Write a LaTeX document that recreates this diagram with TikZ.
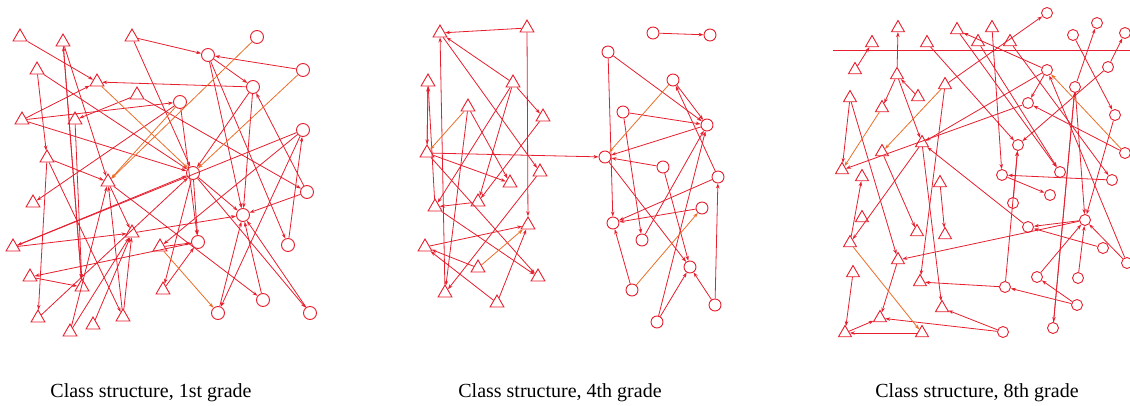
\documentclass[tikz,border=0pt]{standalone}
\usepackage{fontspec}
\setmainfont{Liberation Serif}
\usepackage{xcolor}
\usepackage{tikz}
\usetikzlibrary{shapes.geometric,arrows.meta}

\definecolor{pen}{RGB}{230,30,45}
\definecolor{penwarm}{RGB}{235,110,40}

\begin{document}
\begin{tikzpicture}[x=1pt, y=-1pt,
  tri/.style={draw=pen, regular polygon, regular polygon sides=3, minimum size=16pt, inner sep=0pt, line width=0.9pt, fill=white},
  ring/.style={draw=pen, circle, minimum size=13pt, inner sep=0pt, line width=0.9pt, fill=white},
  caption/.style={font=\fontsize{20}{24}\selectfont, text=black},
  arrow/.style={-{Stealth[length=5pt,width=3.5pt]}, draw=pen, line width=0.8pt},
  warm/.style={arrow, draw=penwarm}
]
  \useasboundingbox (0,0) rectangle (1130,406);

  % 1st grade
  \foreach \n/\x/\y in {1/20/37, 2/63/42, 3/132/37, 4/37/70, 5/97/82, 6/137/95, 7/22/120,
      8/75/120, 9/47/158, 10/108/182, 11/33/203, 12/132/233, 13/13/247, 14/160/247,
      15/30/277, 16/82/287, 17/163/290, 18/38/318, 19/70/332, 20/93/325, 21/123/317}
    \node[tri] (at\n) at (\x,\y) {};
  \foreach \n/\x/\y in {1/257/37, 2/208/55, 3/303/70, 4/253/87, 5/180/102, 6/303/130,
      7/193/173, 8/307/192, 9/243/215, 10/198/242, 11/288/245, 12/263/300, 13/218/313, 14/310/313}
    \node[ring] (ac\n) at (\x,\y) {};

  % 4th grade
  \foreach \n/\x/\y in {1/440/33, 2/527/28, 3/428/82, 4/513/83, 5/468/107, 6/543/117,
      7/427/153, 8/540/172, 9/510/183, 10/478/202, 11/435/207, 12/528/225, 13/425/247,
      14/478/268, 15/538/277, 16/445/293, 17/497/303}
    \node[tri] (bt\n) at (\x,\y) {};
  \foreach \n/\x/\y in {1/653/33, 2/710/35, 3/608/52, 4/673/80, 5/623/112, 6/707/125,
      7/605/157, 8/663/167, 9/718/177, 10/702/208, 11/613/223, 12/642/240, 13/690/267,
      14/632/290, 15/715/305, 16/657/322}
    \node[ring, minimum size=12pt] (bc\n) at (\x,\y) {};

  % 8th grade
  \coordinate (cutL) at (833,50);
  \coordinate (cutR) at (1130,50);
  \draw[pen, line width=0.9pt] (cutL) -- (cutR);
  \foreach \n/\x/\y in {1/898/28, 2/957/30, 3/992/28, 4/872/43, 5/927/43, 6/978/42,
      7/1010/42, 8/855/70, 9/897/75, 10/945/85, 11/918/97, 12/850/98, 13/882/108,
      14/922/143, 15/882/152, 16/842/170, 17/862/177, 18/940/183, 19/862/218,
      20/917/232, 21/945/235, 22/850/243, 23/898/260, 24/853/273, 25/920/282,
      26/942/308, 27/880/318, 28/845/333, 29/922/333}
    \node[tri, minimum size=15pt] (ct\n) at (\x,\y) {};
  \foreach \n/\x/\y in {1/1047/13, 2/1097/23, 3/1073/35, 4/1125/33, 5/1047/70, 6/1108/67,
      7/1075/87, 8/1028/103, 9/1115/115, 10/1018/145, 11/1125/153, 12/1060/172,
      13/1002/175, 14/1112/180, 15/1050/195, 16/1013/203, 17/1085/220, 18/1028/227,
      19/1103/248, 20/1127/263, 21/1037/277, 22/1078/278, 23/1005/287, 24/1077/305,
      25/1053/328, 26/1003/332}
    \node[ring, minimum size=11pt] (cc\n) at (\x,\y) {};

  % choices
  \foreach \i/\j in {at1/at5, at2/at10, at2/at16, at16/at2, at3/ac2, at3/ac7, ac2/ac4,
      ac2/ac9, ac2/ac11, ac3/ac2, at4/at9, at4/ac7, ac4/at5, at7/at5, at7/ac5, at7/ac7,
      at6/at8, at6/ac8, ac5/at11, ac5/ac10, ac4/ac9, ac4/ac7, ac6/at13, ac6/at14, ac6/ac13,
      at8/at16, at9/at10, at9/at21, at9/at18, ac7/ac10, ac7/ac9, ac7/at17, ac7/ac14,
      at10/at12, at10/ac12, at12/ac9, at13/at12, at13/ac7, at14/ac10, at15/at16, ac10/at15,
      at17/ac10, ac13/ac9, ac12/ac9, ac14/ac9, ac11/ac6, ac8/ac9, ac8/ac4, at19/at12,
      at19/at10, at20/at12, at21/at12, at21/at10, at18/ac7}
    \draw[arrow] (\i) -- (\j);
  \foreach \i/\j in {ac1/at10, ac3/ac7, at5/ac7, ac5/at10, at14/ac13}
    \draw[warm] (\i) -- (\j);

  \foreach \i/\j in {bt2/bt1, bt2/bt12, bt16/bt1, bt4/bt1, bt1/bt8, bt3/bt7, bt7/bt3,
      bt11/bt3, bt4/bt6, bt4/bt10, bt4/bt11, bt5/bt9, bt5/bt16, bt6/bt10, bt7/bc7,
      bt7/bt9, bt7/bt15, bt8/bt16, bt10/bt11, bt11/bt15, bt13/bt12, bt14/bt13, bt17/bt13,
      bt17/bt12, bc1/bc2, bc3/bc6, bc3/bc11, bc4/bc6, bc9/bc4, bc5/bc6, bc5/bc12,
      bc6/bc7, bc8/bc7, bc7/bc13, bc8/bc13, bc9/bc11, bc10/bc11, bc12/bc6, bc16/bc6,
      bc14/bc11, bc15/bc9, bc15/bc13, bc16/bc13}
    \draw[arrow] (\i) -- (\j);
  \foreach \i/\j in {bt5/bt7, bt14/bt12, bc4/bc7, bc14/bc10}
    \draw[warm] (\i) -- (\j);

  \foreach \i/\j in {ct8/ct4, ct9/ct1, ct9/ct13, ct11/ct9, ct9/ct14, ct10/cc1, ct10/ct25,
      cc5/ct2, cc5/cc8, cc5/ct14, cc8/ct16, ct3/cc13, ct5/cc10, ct6/cc12, ct7/cc14,
      cc3/cc9, cc7/cc2, cc6/cc4, cc6/cc10, cc7/cc25, cc7/cc17, cc9/cc17, cc11/cc8,
      cc13/cc15, cc14/cc13, cc16/cc10, cc18/ct14, cc17/ct23, cc19/cc18, cc17/cc18,
      cc20/cc17, cc22/cc17, cc21/cc17, cc24/cc23, cc24/cc21, cc23/ct25, cc23/cc10,
      cc25/cc7, cc26/ct26, cc26/ct27, ct28/ct27, ct29/ct28, ct24/ct28, ct22/ct17,
      ct12/ct16, ct12/ct23, ct15/ct20, ct14/ct22, ct14/ct26, ct18/ct21, ct23/ct27,
      cc20/cc5, ct2/cc12}
    \draw[arrow] (\i) -- (\j);
  \foreach \i/\j in {ct10/ct15, cc11/cc5, ct22/ct29, ct13/ct16}
    \draw[warm] (\i) -- (\j);

  \node[caption] (cap1) at (151,393) {Class structure, 1st grade};
  \node[caption] (cap4) at (560,393) {Class structure, 4th grade};
  \node[caption] (cap8) at (977,393) {Class structure, 8th grade};
\end{tikzpicture}
\end{document}
